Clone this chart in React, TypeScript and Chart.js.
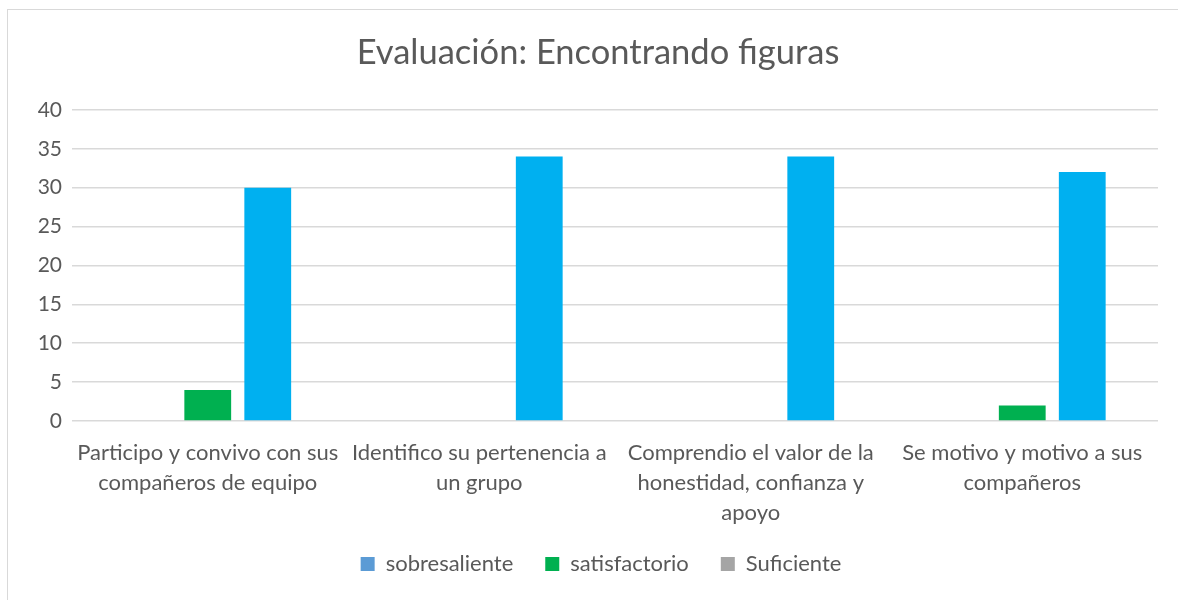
import React, { useEffect, useRef } from "react";
import { Chart, registerables } from "chart.js";

Chart.register(...registerables);

const categories: string[][] = [
  ["Participo y convivo con sus", "compañeros de equipo"],
  ["Identifico su pertenencia a", "un grupo"],
  ["Comprendio el valor de la", "honestidad, confianza y", "apoyo"],
  ["Se motivo y motivo a sus", "compañeros"],
];
const seriesNames = ["sobresaliente", "satisfactorio", "Suficiente"];
const sobresaliente = [0, 0, 0, 0];
const satisfactorio = [4, 0, 0, 2];
const suficiente = [30, 34, 34, 32];
const barColors = ["#5B9BD5", "#00B050", "#00B0F0"];
const legendColors = ["#5B9BD5", "#00B050", "#A5A5A5"];
const titleText = "Evaluación: Encontrando figuras";

const FONT = "Lato, sans-serif";
const TEXT = "#595959";

// Centre title and legend on the whole chart frame, and let the 3-line
// category labels extend below the x-axis box without being clipped.
const recentre = {
  id: "recentre",
  afterLayout(chart: any) {
    if (chart.titleBlock) chart.titleBlock.left = 38;
    if (chart.legend) {
      chart.legend.left = 44;
      if (chart.legend.adjustHitBoxes) chart.legend.adjustHitBoxes();
    }
    const x = chart.scales && chart.scales.x;
    if (x) {
      x.bottom = x.bottom + 30;
      x.height = x.bottom - x.top;
    }
  },
};

export default function App() {
  const ref = useRef<HTMLCanvasElement | null>(null);
  useEffect(() => {
    if (!ref.current) return;
    const values = [sobresaliente, satisfactorio, suficiente];
    const chart = new Chart(ref.current, {
      type: "bar",
      data: {
        labels: categories,
        datasets: values.map((d, i) => ({
          label: seriesNames[i],
          data: d,
          backgroundColor: barColors[i],
          borderWidth: 0,
          barPercentage: 0.78,
          categoryPercentage: 0.663,
        })),
      },
      plugins: [recentre],
      options: {
        animation: false,
        responsive: false,
        maintainAspectRatio: false,
        layout: { padding: { left: 10, right: 20, top: 0, bottom: 15 } },
        plugins: {
          title: {
            display: true,
            text: titleText,
            color: TEXT,
            font: { family: FONT, size: 34.5, weight: "normal" },
            padding: { top: 32.5, bottom: 36 },
          },
          legend: {
            position: "bottom",
            labels: {
              color: TEXT,
              font: { family: FONT, size: 22 },
              boxWidth: 14,
              boxHeight: 14,
              padding: 32,
              generateLabels: (c: any) => {
                const items = Chart.defaults.plugins.legend.labels.generateLabels(c);
                items.forEach((it: any, i: number) => {
                  it.fillStyle = legendColors[i];
                  it.strokeStyle = legendColors[i];
                  it.lineWidth = 0;
                });
                return items;
              },
            },
          },
          tooltip: { enabled: false },
        },
        scales: {
          x: {
            grid: { display: false },
            border: { display: false },
            ticks: {
              color: TEXT,
              font: { family: FONT, size: 22, lineHeight: 1.364 },
              maxRotation: 0,
              autoSkip: false,
              padding: 9,
            },
            afterFit: (s: any) => {
              s.height = 100;
            },
          },
          y: {
            min: 0,
            max: 40,
            ticks: {
              stepSize: 5,
              color: TEXT,
              font: { family: FONT, size: 21 },
              padding: 10,
            },
            grid: { color: "#D9D9D9", lineWidth: 1.5, drawTicks: false },
            border: { display: false },
            afterFit: (s: any) => {
              s.width = 62;
            },
          },
        },
      },
    });
    return () => chart.destroy();
  }, []);
  return (
    <div style={{ position: "fixed", left: 0, top: 0, width: 1178, height: 600, background: "#fff" }}>
      <canvas ref={ref} width={1178} height={600} style={{ position: "absolute", left: 0, top: 0 }} />
      <div
        style={{
          position: "absolute",
          left: 7,
          top: 9,
          width: 1200,
          height: 620,
          borderLeft: "1.5px solid #D9D9D9",
          borderTop: "1.5px solid #D9D9D9",
          pointerEvents: "none",
        }}
      />
    </div>
  );
}
